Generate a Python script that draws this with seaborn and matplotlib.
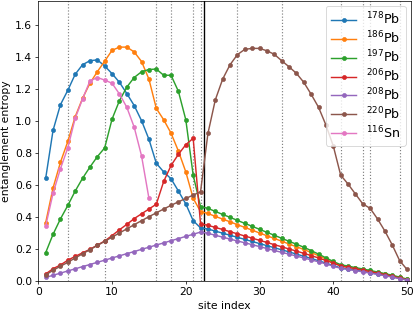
import matplotlib
matplotlib.use("Agg")
import matplotlib.pyplot as plt
import seaborn as sns

# site indices
sites = list(range(1, 51))
sites_sn = list(range(1, 16))

# entanglement entropy per nucleus
pb178 = [0.64, 0.94, 1.10, 1.19, 1.29, 1.35, 1.375, 1.38, 1.342, 1.294,
         1.24, 1.17, 1.095, 1.00, 0.884, 0.734, 0.68, 0.637, 0.56, 0.48,
         0.375, 0.33, 0.323, 0.310, 0.297, 0.284, 0.271, 0.258, 0.245, 0.232,
         0.219, 0.206, 0.193, 0.180, 0.166, 0.153, 0.139, 0.125, 0.110, 0.095,
         0.080, 0.073, 0.066, 0.058, 0.050, 0.042, 0.033, 0.024, 0.014, 0.004]
pb186 = [0.363, 0.58, 0.74, 0.87, 1.025, 1.14, 1.234, 1.306, 1.372, 1.44,
         1.46, 1.46, 1.43, 1.37, 1.26, 1.077, 1.006, 0.922, 0.81, 0.68,
         0.515, 0.432, 0.42, 0.402, 0.385, 0.368, 0.350, 0.333, 0.316, 0.298,
         0.281, 0.264, 0.247, 0.229, 0.212, 0.195, 0.176, 0.156, 0.135, 0.113,
         0.093, 0.085, 0.077, 0.069, 0.060, 0.051, 0.041, 0.031, 0.020, 0.008]
pb197 = [0.175, 0.29, 0.386, 0.47, 0.56, 0.64, 0.71, 0.775, 0.83, 1.01,
         1.125, 1.21, 1.27, 1.306, 1.32, 1.323, 1.284, 1.284, 1.183, 1.006,
         0.66, 0.463, 0.452, 0.433, 0.414, 0.396, 0.377, 0.358, 0.340, 0.321,
         0.302, 0.284, 0.265, 0.246, 0.228, 0.209, 0.188, 0.166, 0.143, 0.120,
         0.100, 0.091, 0.082, 0.073, 0.064, 0.054, 0.044, 0.034, 0.022, 0.010]
pb206 = [0.042, 0.075, 0.098, 0.128, 0.152, 0.174, 0.196, 0.222, 0.248, 0.282,
         0.318, 0.352, 0.388, 0.418, 0.448, 0.478, 0.62, 0.72, 0.79, 0.85,
         0.89, 0.355, 0.346, 0.333, 0.320, 0.306, 0.293, 0.279, 0.266, 0.252,
         0.239, 0.225, 0.212, 0.198, 0.185, 0.171, 0.157, 0.142, 0.126, 0.110,
         0.092, 0.083, 0.075, 0.066, 0.057, 0.048, 0.038, 0.028, 0.017, 0.006]
pb208 = [0.020, 0.034, 0.047, 0.061, 0.074, 0.088, 0.101, 0.115, 0.128, 0.142,
         0.155, 0.169, 0.182, 0.196, 0.209, 0.223, 0.236, 0.250, 0.263, 0.277,
         0.290, 0.304, 0.296, 0.284, 0.272, 0.260, 0.248, 0.237, 0.225, 0.213,
         0.201, 0.189, 0.177, 0.166, 0.154, 0.142, 0.130, 0.118, 0.105, 0.091,
         0.077, 0.070, 0.063, 0.055, 0.047, 0.039, 0.031, 0.022, 0.013, 0.004]
pb220 = [0.036, 0.065, 0.090, 0.115, 0.142, 0.168, 0.194, 0.220, 0.246, 0.272,
         0.298, 0.324, 0.350, 0.375, 0.400, 0.424, 0.448, 0.471, 0.493, 0.514,
         0.535, 0.556, 0.92, 1.13, 1.26, 1.35, 1.413, 1.446, 1.452, 1.452,
         1.437, 1.415, 1.375, 1.337, 1.296, 1.24, 1.165, 1.084, 0.973, 0.842,
         0.66, 0.604, 0.542, 0.48, 0.452, 0.386, 0.31, 0.223, 0.125, 0.07]
sn116 = [0.342, 0.546, 0.70, 0.83, 1.015, 1.136, 1.248, 1.27, 1.254, 1.234,
         1.167, 1.084, 0.96, 0.78, 0.515]

labels = [r"$^{178}$Pb", r"$^{186}$Pb", r"$^{197}$Pb", r"$^{206}$Pb",
          r"$^{208}$Pb", r"$^{220}$Pb", r"$^{116}$Sn"]
series = [pb178, pb186, pb197, pb206, pb208, pb220, sn116]

# dotted markers of the orbital boundaries, solid line = center
dotted_x = [4, 9, 16, 18, 21, 22, 27, 33, 41, 44, 45, 49]
center_x = 22.5

plt.rcParams["font.size"] = 12
colors = sns.color_palette("tab10")

fig = plt.figure(figsize=(6.4, 4.8), dpi=64.85)
ax = fig.add_axes([0.0923, 0.0974, 0.8973, 0.8994])

for xv in dotted_x:
    ax.axvline(xv, color="gray", linestyle=":", linewidth=1.3, zorder=1)
ax.axvline(center_x, color="black", linewidth=1.5, zorder=1)

for i, (lab, vals) in enumerate(zip(labels, series)):
    xs = sites if len(vals) == 50 else sites_sn
    sns.lineplot(x=xs, y=vals, ax=ax, color=colors[i], marker="o",
                 markersize=4.5, markeredgecolor=colors[i], linewidth=1.6,
                 label=lab, zorder=2)

ax.set_xlim(0, 50.5)
ax.set_ylim(0, 1.75)
ax.set_xticks([0, 10, 20, 30, 40, 50])
ax.set_yticks([0.0, 0.2, 0.4, 0.6, 0.8, 1.0, 1.2, 1.4, 1.6])
ax.set_xlabel("site index")
ax.set_ylabel("entanglement entropy")
ax.legend(loc="upper right", fontsize=14, labelspacing=0.18,
          borderaxespad=0.4)

fig.savefig("out.png", dpi=64.85)
